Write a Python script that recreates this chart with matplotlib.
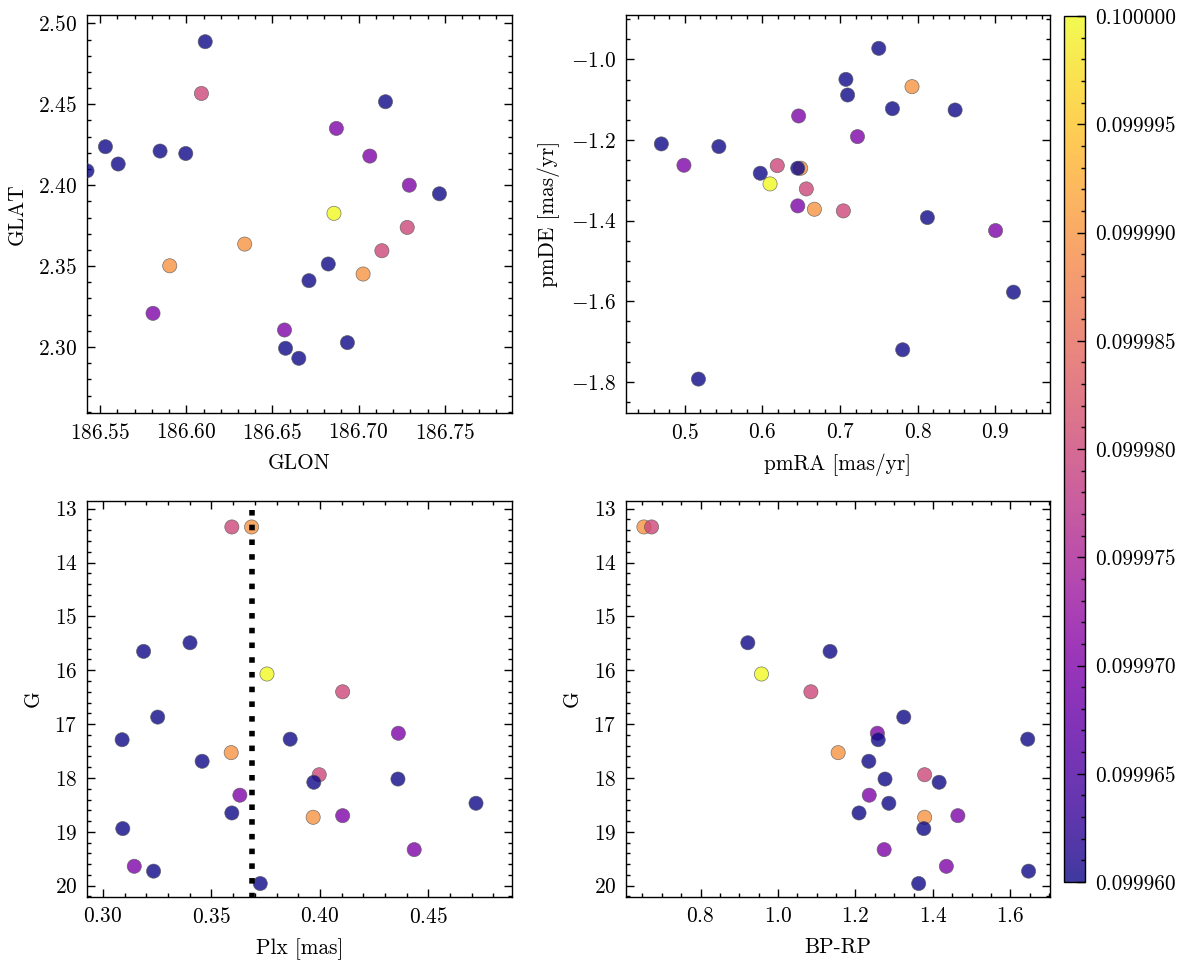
import numpy as np
import matplotlib
matplotlib.use("Agg")
import matplotlib.pyplot as plt
from matplotlib.ticker import AutoMinorLocator, MultipleLocator, FormatStrFormatter, ScalarFormatter

plt.rcParams['font.family'] = 'serif'
plt.rcParams['font.serif'] = ['cmr10']
plt.rcParams['mathtext.fontset'] = 'cm'
plt.rcParams['axes.formatter.use_mathtext'] = True
plt.rcParams['axes.unicode_minus'] = True
plt.rcParams['font.size'] = 7.7
plt.rcParams['axes.linewidth'] = 0.5
for a in ('xtick', 'ytick'):
    plt.rcParams[f'{a}.direction'] = 'in'
    plt.rcParams[f'{a}.major.size'] = 3
    plt.rcParams[f'{a}.minor.size'] = 1.5
    plt.rcParams[f'{a}.major.width'] = 0.5
    plt.rcParams[f'{a}.minor.width'] = 0.5
    plt.rcParams[f'{a}.minor.visible'] = True
plt.rcParams['xtick.top'] = True
plt.rcParams['ytick.right'] = True

# ---- data (ordered: yellow, orange, pink, purple, blue) ----
prob = [0.10000,
        0.09999, 0.09999, 0.09999,
        0.09998, 0.09998, 0.09998,
        0.09997, 0.09997, 0.09997, 0.09997, 0.09997,
        0.09996, 0.09996, 0.09996, 0.09996, 0.09996, 0.09996, 0.09996,
        0.09996, 0.09996, 0.09996, 0.09996, 0.09996, 0.09996]

glon = [186.6857,
        186.6339, 186.5904, 186.7026,
        186.6088, 186.7282, 186.7135,
        186.6871, 186.7065, 186.7294, 186.5807, 186.6570,
        186.5424, 186.5531, 186.5605, 186.5848, 186.5997, 186.6110, 186.7156,
        186.7469, 186.6824, 186.6712, 186.6935, 186.6576, 186.6653]
glat = [2.3826,
        2.3636, 2.3502, 2.3451,
        2.4567, 2.3739, 2.3595,
        2.4351, 2.4180, 2.4000, 2.3208, 2.3105,
        2.4089, 2.4238, 2.4131, 2.4211, 2.4196, 2.4887, 2.4516,
        2.3947, 2.3513, 2.3410, 2.3027, 2.2992, 2.2930]

pmra = [0.6098,
        0.7926, 0.6493, 0.6669,
        0.6191, 0.6565, 0.7042,
        0.6466, 0.7224, 0.4989, 0.6455, 0.9002,
        0.7498, 0.7075, 0.7097, 0.7674, 0.8481, 0.4698, 0.5439,
        0.6455, 0.5972, 0.8124, 0.9233, 0.7806, 0.5176]
pmde = [-1.3089,
        -1.0677, -1.2700, -1.3717,
        -1.2635, -1.3213, -1.3758,
        -1.1404, -1.1916, -1.2626, -1.3634, -1.4245,
        -0.9727, -1.0496, -1.0884, -1.1223, -1.1256, -1.2097, -1.2163,
        -1.2700, -1.2824, -1.3923, -1.5773, -1.7202, -1.7929]

plx = [0.3756,
       0.3685, 0.3591, 0.3969,
       0.3594, 0.4105, 0.3997,
       0.4362, 0.3631, 0.4105, 0.4435, 0.3144,
       0.3401, 0.3187, 0.3252, 0.3088, 0.3863, 0.3457, 0.3972,
       0.4360, 0.4720, 0.3594, 0.3091, 0.3233, 0.3725]
gmag = [16.07,
        13.34, 17.53, 18.73,
        13.34, 16.40, 17.94,
        17.17, 18.32, 18.70, 19.33, 19.64,
        15.49, 15.65, 16.87, 17.29, 17.28, 17.69, 18.08,
        18.02, 18.47, 18.65, 18.94, 19.73, 19.96]
bprp = [0.9573,
        0.6537, 1.1553, 1.3786,
        0.6735, 1.0849, 1.3786,
        1.2565, 1.2356, 1.4644, 1.2741, 1.4347,
        0.9221, 1.1344, 1.3247, 1.2587, 1.6448, 1.2345, 1.4160,
        1.2763, 1.2862, 1.2092, 1.3764, 1.6470, 1.3632]

plx_ref = 0.3685
line_g = [13.03, 20.5]

cb_ticks = [0.09996, 0.099965, 0.09997, 0.099975, 0.09998, 0.099985, 0.09999, 0.099995, 0.1]

W, H = 1189, 965
fig = plt.figure(figsize=(W / 200, H / 200), dpi=200)

def px_axes(l, r, t, b):
    return fig.add_axes([l / W, 1 - b / H, (r - l) / W, (b - t) / H])

ax1 = px_axes(87, 512, 15, 413)
ax2 = px_axes(626, 1050, 15, 413)
ax3 = px_axes(87, 512, 501, 897)
ax4 = px_axes(626, 1050, 501, 897)
cax = px_axes(1064, 1085, 16, 882)

kw = dict(c=prob, cmap='plasma', vmin=0.09996, vmax=0.1, s=26, alpha=0.8,
          edgecolors='0.35', linewidths=0.25, zorder=3)

sc = ax1.scatter(glon, glat, **kw)
ax1.set_xlim(186.5424, 186.789)
ax1.set_ylim(2.2592, 2.5052)
ax1.set_xlabel('GLON')
ax1.set_ylabel('GLAT')
ax1.xaxis.set_major_formatter(ScalarFormatter(useOffset=False))

ax2.scatter(pmra, pmde, **kw)
ax2.set_xlim(0.4243, 0.9703)
ax2.set_ylim(-1.877, -0.890)
ax2.set_xlabel('pmRA [mas/yr]')
ax2.set_ylabel('pmDE [mas/yr]')

ax3.scatter(plx, gmag, **kw)
ax3.plot([plx_ref, plx_ref], line_g, ls=':', color='k', lw=2, zorder=4)
ax3.set_xlim(0.2926, 0.4886)
ax3.set_ylim(20.21, 12.858)
ax3.set_xlabel('Plx [mas]')
ax3.set_ylabel('G')

ax4.scatter(bprp, gmag, **kw)
ax4.set_xlim(0.6075, 1.7023)
ax4.set_ylim(20.21, 12.858)
ax4.set_xlabel('BP-RP')
ax4.set_ylabel('G')

for ax in (ax1, ax2, ax3, ax4):
    ax.xaxis.set_minor_locator(AutoMinorLocator())
    ax.yaxis.set_minor_locator(AutoMinorLocator())

cb = fig.colorbar(sc, cax=cax)
cb.outline.set_linewidth(0.5)
cb.set_ticks(cb_ticks)
cb.ax.yaxis.set_major_formatter(FormatStrFormatter('%.6f'))
cb.ax.yaxis.set_minor_locator(MultipleLocator(0.000001))
cb.ax.tick_params(which='both', direction='in', right=True, left=False)

fig.savefig('out.png', dpi=200)
